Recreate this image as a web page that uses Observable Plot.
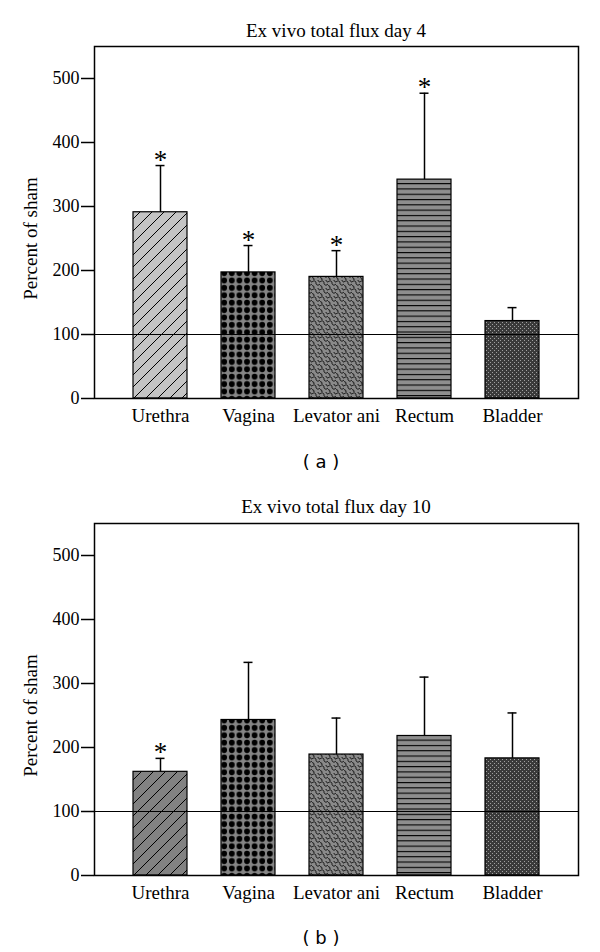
<!DOCTYPE html>
<html><head><meta charset="utf-8">
<script src="https://cdn.jsdelivr.net/npm/d3@7"></script>
<script src="https://cdn.jsdelivr.net/npm/@observablehq/plot@0.6"></script>
<style>
body{margin:0;background:#fff;}
#root{position:relative;width:600px;height:952px;overflow:hidden;background:#fff;}
.title{position:absolute;left:94px;width:484px;text-align:center;font-family:"Liberation Serif",serif;font-size:19px;line-height:19px;color:#000;white-space:nowrap;}
.cap{position:absolute;left:271px;width:100px;text-align:center;font-family:"DejaVu Sans",sans-serif;font-size:18px;line-height:18px;color:#000;white-space:pre;}
.chart{position:absolute;left:0;}
</style></head><body>
<div id="root">
<svg width="0" height="0" style="position:absolute;left:0;top:0">
<defs>
<pattern id="hatchLight" patternUnits="userSpaceOnUse" width="12" height="12">
<rect width="12" height="12" fill="#c4c4c4"/>
<path d="M-3,3 L3,-3 M0,12 L12,0 M9,15 L15,9" stroke="#000" stroke-width="1"/>
</pattern>
<pattern id="hatchDark" patternUnits="userSpaceOnUse" width="12" height="12">
<rect width="12" height="12" fill="#828282"/>
<path d="M-3,3 L3,-3 M0,12 L12,0 M9,15 L15,9" stroke="#000" stroke-width="1"/>
</pattern>
<pattern id="dots" patternUnits="userSpaceOnUse" width="7.6" height="7.4">
<rect width="7.6" height="7.4" fill="#858585"/>
<circle cx="3.8" cy="3.7" r="2.9" fill="#000"/>
</pattern>
<pattern id="scales" patternUnits="userSpaceOnUse" width="8" height="8">
<rect width="8" height="8" fill="#8a8a8a"/>
<path d="M0,2 C2,0 4,1 4,3 C4,5 6,6 8,4 M0,6 C1,5 2,6 2,8 M6,0 C6,1 7,2 8,2" stroke="#000" stroke-width="0.9" fill="none"/>
</pattern>
<pattern id="hlines" patternUnits="userSpaceOnUse" width="8" height="5.3">
<rect width="8" height="5.3" fill="#8e8e8e"/>
<rect y="0" width="8" height="1.1" fill="#000"/>
</pattern>
<pattern id="speck" patternUnits="userSpaceOnUse" width="4" height="4">
<rect width="4" height="4" fill="#3a3a3a"/>
<rect x="0" y="0" width="1" height="1" fill="#a0a0a0"/>
<rect x="2" y="2" width="1" height="1" fill="#a0a0a0"/>
</pattern>
</defs>
</svg>
<div class="title" style="top:21px">Ex vivo total flux day 4</div>
<div class="chart" id="c1" style="top:40px"></div>
<div class="cap" style="top:453px">( a )</div>
<div class="title" style="top:497px">Ex vivo total flux day 10</div>
<div class="chart" id="c2" style="top:516.5px"></div>
<div class="cap" style="top:929px">( b )</div>
</div>
<script>
const categories = ["Urethra", "Vagina", "Levator ani", "Rectum", "Bladder"];
const yTicks = [0, 100, 200, 300, 400, 500];
const yLabel = "Percent of sham";
const shamLevel = [100];

const day4Mean = [291, 197, 190, 342, 121];
const day4Upper = [364, 239, 231, 477, 142];
const day4Sig = [true, true, true, true, false];
const day4Patterns = ["hatchLight", "dots", "scales", "hlines", "speck"];

const day10Mean = [162, 243, 189, 218, 183];
const day10Upper = [183, 333, 246, 310, 254];
const day10Sig = [true, false, false, false, false];
const day10Patterns = ["hatchDark", "dots", "scales", "hlines", "speck"];

function chart(means, uppers, sig, pats) {
  const data = categories.map((c, i) => ({cat: c, mean: means[i], upper: uppers[i], sig: sig[i], pat: `url(#${pats[i]})`}));
  return Plot.plot({
    width: 600, height: 398,
    marginLeft: 94, marginRight: 22, marginTop: 6, marginBottom: 40,
    style: {fontFamily: '"Liberation Serif", serif', color: "#000", background: "transparent", overflow: "visible"},
    x: {domain: categories, paddingInner: 0.388, paddingOuter: 0.4355, label: null},
    y: {domain: [0, 550], label: null},
    color: {type: "identity"},
    marks: [
      Plot.barY(data, {x: "cat", y: "mean", fill: "pat", stroke: "#000", strokeWidth: 1.2}),
      Plot.ruleX(data, {x: "cat", y1: "mean", y2: "upper", stroke: "#000", strokeWidth: 1.5}),
      Plot.tickY(data, {x: "cat", y: "upper", stroke: "#000", strokeWidth: 1.5, insetLeft: 22.5, insetRight: 22.5}),
      Plot.text(data.filter(d => d.sig), {x: "cat", y: "upper", text: () => "*", fontSize: 27, fontWeight: 300, lineAnchor: "bottom", dy: 3}),
      Plot.ruleY(shamLevel, {stroke: "#000", strokeWidth: 1.2}),
      Plot.frame({stroke: "#000", strokeWidth: 1.5}),
      Plot.axisY({ticks: yTicks, tickSize: 13, tickPadding: 2, fontSize: 18, label: null, strokeWidth: 1.5}),
      Plot.axisX({tickSize: 0, tickPadding: 9.5, fontSize: 19, label: null}),
      Plot.text([yLabel], {frameAnchor: "left", y: () => 250, dx: -64, rotate: -90, textAnchor: "middle", lineAnchor: "middle", fontSize: 19, text: d => d})
    ]
  });
}

document.getElementById("c1").appendChild(chart(day4Mean, day4Upper, day4Sig, day4Patterns));
document.getElementById("c2").appendChild(chart(day10Mean, day10Upper, day10Sig, day10Patterns));
</script>
</body></html>
